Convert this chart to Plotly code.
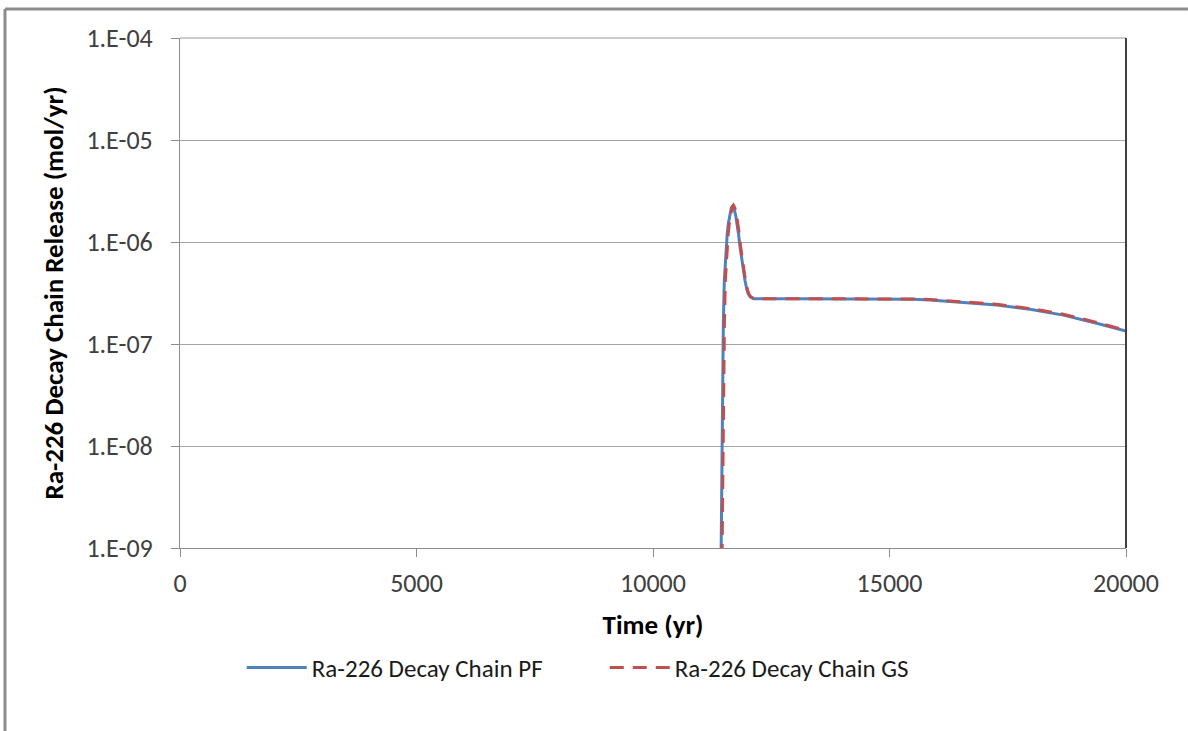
import plotly.graph_objects as go

# ---- data ----
pf_time = [11420, 11438, 11451, 11466, 11487, 11508, 11525, 11543, 11568, 11593, 11625, 11655, 11684, 11715,
           11750, 11780, 11810, 11839, 11870, 11900, 11945, 11980, 12015, 12060, 12135, 13000, 14000, 15000,
           15500, 15856, 16561, 17266, 17970, 18675, 19380, 20000]
pf_release = [1e-10, 1.0e-9, 4.3e-9, 3.8e-8, 1.6e-7, 4.2e-7, 6.2e-7, 8.4e-7, 1.18e-6, 1.52e-6, 1.9e-6, 2.15e-6, 2.22e-6, 2.1e-6,
              1.8e-6, 1.52e-6, 1.18e-6, 9.0e-7, 7.0e-7, 5.6e-7, 4.2e-7, 3.5e-7, 3.1e-7, 2.88e-7, 2.78e-7, 2.78e-7, 2.78e-7, 2.77e-7,
              2.74e-7, 2.70e-7, 2.54e-7, 2.41e-7, 2.19e-7, 1.92e-7, 1.60e-7, 1.34e-7]

gs_time = [11440, 11460, 11475, 11490, 11510, 11530, 11547, 11565, 11590, 11615, 11645, 11675, 11700, 11730,
           11765, 11795, 11825, 11850, 11880, 11910, 11955, 11990, 12025, 12070, 12145, 13000, 14000, 15000,
           15500, 15856, 16561, 17266, 17970, 18675, 19380, 20000]
gs_release = [1e-10, 1.0e-9, 4.3e-9, 3.8e-8, 1.6e-7, 4.2e-7, 6.2e-7, 8.4e-7, 1.2e-6, 1.55e-6, 1.95e-6, 2.22e-6, 2.30e-6, 2.17e-6,
              1.85e-6, 1.55e-6, 1.2e-6, 9.2e-7, 7.1e-7, 5.7e-7, 4.2e-7, 3.5e-7, 3.1e-7, 2.88e-7, 2.78e-7, 2.78e-7, 2.78e-7, 2.78e-7,
              2.76e-7, 2.73e-7, 2.58e-7, 2.45e-7, 2.23e-7, 1.96e-7, 1.63e-7, 1.36e-7]

y_tick_vals = [1e-9, 1e-8, 1e-7, 1e-6, 1e-5, 1e-4]
y_tick_text = ["1.E-09", "1.E-08", "1.E-07", "1.E-06", "1.E-05", "1.E-04"]
x_tick_vals = [0, 5000, 10000, 15000, 20000]
x_tick_text = ["0", "5000", "10000", "15000", "20000"]

series_names = ["Ra-226 Decay Chain PF", "Ra-226 Decay Chain GS"]
x_title = "Time (yr)"
y_title = "Ra-226 Decay Chain Release (mol/yr)"

FONT = "Carlito, Calibri, Lato, sans-serif"

fig = go.Figure()
fig.add_trace(go.Scatter(x=pf_time, y=pf_release, mode="lines", name=series_names[0],
                         line=dict(color="#4F81BD", width=3)))
fig.add_trace(go.Scatter(x=gs_time, y=gs_release, mode="lines", name=series_names[1],
                         line=dict(color="#C0504D", width=3, dash="14px,9px")))

fig.update_layout(
    width=1188, height=731,
    margin=dict(l=180, r=62, t=38, b=183),
    paper_bgcolor="white", plot_bgcolor="white",
    font=dict(family=FONT, size=26, color="#404040"),
    showlegend=True,
    legend=dict(orientation="h", x=0.449, y=-0.235, xanchor="center", yanchor="middle",
                font=dict(size=25, color="#1a1a1a"), itemwidth=60, entrywidth=288),
    xaxis=dict(range=[0, 20000], tickvals=x_tick_vals, ticktext=x_tick_text,
               showgrid=False, zeroline=False,
               showline=True, linecolor="#8c8c8c", linewidth=1,
               ticks="outside", ticklen=8, tickcolor="#8c8c8c", ticklabelstandoff=4,
               title=dict(text="<b>" + x_title + "</b>", font=dict(size=27, color="black"), standoff=16)),
    yaxis=dict(type="log", range=[-9, -4], tickvals=y_tick_vals, ticktext=y_tick_text,
               showgrid=True, gridcolor="#a6a6a6", gridwidth=1, zeroline=False,
               showline=True, linecolor="#8c8c8c", linewidth=1,
               ticks="outside", ticklen=8, tickcolor="#8c8c8c", ticklabelstandoff=13,
               title=dict(text="<b>" + y_title + "</b>", font=dict(size=27, color="black"), standoff=14)),
    shapes=[
        dict(type="line", xref="paper", yref="paper", x0=0, x1=1, y0=1, y1=1,
             line=dict(color="#999999", width=1)),
        dict(type="line", xref="paper", yref="paper", x0=1, x1=1, y0=0, y1=1,
             line=dict(color="#404040", width=2)),
        dict(type="line", xref="paper", yref="paper", x0=-0.185, x1=1.0655, y0=1.0569, y1=1.0569,
             line=dict(color="#8c8c8c", width=3), layer="below"),
        dict(type="line", xref="paper", yref="paper", x0=-0.185, x1=-0.185, y0=-0.36, y1=1.0569,
             line=dict(color="#8c8c8c", width=3), layer="below"),
    ],
)

fig.write_html("out.html", config={"displayModeBar": False},
               post_script="document.body.style.margin='0';document.body.style.overflow='hidden';"
                           "document.documentElement.style.overflow='hidden';")
